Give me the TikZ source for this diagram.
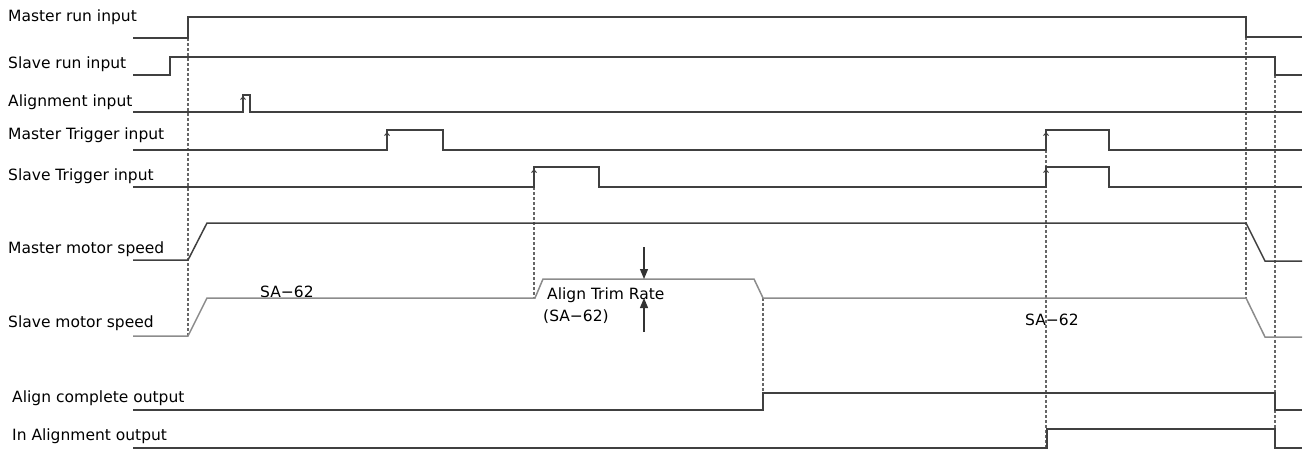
\documentclass[tikz,border=0pt]{standalone}
\usepackage{fontspec}
\setmainfont{DejaVu Sans}
\usetikzlibrary{arrows.meta}
\begin{document}
\begin{tikzpicture}[x=1pt,y=-1pt,
 sig/.style={draw=black!75, line width=1.5pt, line join=miter},
 spd/.style={draw=black!45, line width=1.5pt, line join=miter},
 guide/.style={draw=black!60, line width=1.6pt, dash pattern=on 3pt off 2pt},
 edgetip/.style={draw=black!75, line width=0.9pt, -{Straight Barb[length=3pt,width=5pt]}},
 lbl/.style={font=\fontsize{15.5}{18}\selectfont, anchor=base west, inner sep=0pt},
 dimarrow/.style={draw=black!80, line width=1.2pt, -{Triangle[length=10pt,width=8pt]}}]
\useasboundingbox (0,0) rectangle (1309,450);

% key instants
\coordinate (g1a) at (188,38);   \coordinate (g1b) at (188,336);
\coordinate (g2a) at (534,187);  \coordinate (g2b) at (534,298);
\coordinate (g3a) at (763,298);  \coordinate (g3b) at (763,393);
\coordinate (g4a) at (1046,150); \coordinate (g4b) at (1046,448);
\coordinate (g5a) at (1246,37);  \coordinate (g5b) at (1246,298);
\coordinate (g6a) at (1275,75);  \coordinate (g6b) at (1275,448);

% guide lines
\draw[guide] (g1a) -- (g1b);
\draw[guide] (g2a) -- (g2b);
\draw[guide] (g3a) -- (g3b);
\draw[guide] (g4a) -- (g4b);
\draw[guide] (g5a) -- (g5b);
\draw[guide] (g6a) -- (g6b);

% labels
\node[lbl] (l1) at (8,21) {Master run input};
\node[lbl] (l2) at (8,68) {Slave run input};
\node[lbl] (l3) at (8,106) {Alignment input};
\node[lbl] (l4) at (8,139) {Master Trigger input};
\node[lbl] (l5) at (8,180) {Slave Trigger input};
\node[lbl] (l6) at (8,253) {Master motor speed};
\node[lbl] (l7) at (8,327) {Slave motor speed};
\node[lbl] (l8) at (12,402) {Align complete output};
\node[lbl] (l9) at (12,440) {In Alignment output};
\node[lbl] (t1) at (260,297) {SA−62};
\node[lbl] (t2) at (547,299) {Align Trim Rate};
\node[lbl] (t3) at (543,321) {(SA−62)};
\node[lbl] (t4) at (1025,325) {SA−62};

% signals
\draw[sig] (133,38) -- (188,38) -- (188,17) -- (1246,17) -- (1246,37) -- (1302,37);
\draw[sig] (133,75) -- (170,75) -- (170,57) -- (1275,57) -- (1275,75) -- (1302,75);
\draw[sig] (133,112) -- (243,112) -- (243,95) -- (250,95) -- (250,112) -- (1302,112);
\draw[sig] (133,150) -- (387,150) -- (387,130) -- (443,130) -- (443,150) -- (1046,150)
   -- (1046,130) -- (1109,130) -- (1109,150) -- (1302,150);
\draw[sig] (133,187) -- (534,187) -- (534,167) -- (599,167) -- (599,187) -- (1046,187)
   -- (1046,167) -- (1109,167) -- (1109,187) -- (1302,187);
\draw[sig] (133,260) -- (188,260) -- (207,223) -- (1246,223) -- (1265,261) -- (1302,261);
\draw[spd] (133,336) -- (188,336) -- (207,298) -- (535,298) -- (543,279) -- (754,279)
   -- (763,298) -- (1246,298) -- (1265,337) -- (1302,337);
\draw[sig] (133,410) -- (763,410) -- (763,393) -- (1275,393) -- (1275,410) -- (1302,410);
\draw[sig] (133,448) -- (1047,448) -- (1047,429) -- (1275,429) -- (1275,448) -- (1302,448);

% edge tips
\draw[edgetip] (243,108) -- (243,96);
\draw[edgetip] (387,146) -- (387,132);
\draw[edgetip] (534,183) -- (534,169);
\draw[edgetip] (1046,146) -- (1046,132);
\draw[edgetip] (1046,183) -- (1046,169);

% trim rate dimension
\coordinate (d1) at (644,247); \coordinate (d2) at (644,279);
\coordinate (d3) at (644,332); \coordinate (d4) at (644,298);
\draw[dimarrow] (d1) -- (d2);
\draw[dimarrow] (d3) -- (d4);
\end{tikzpicture}
\end{document}
